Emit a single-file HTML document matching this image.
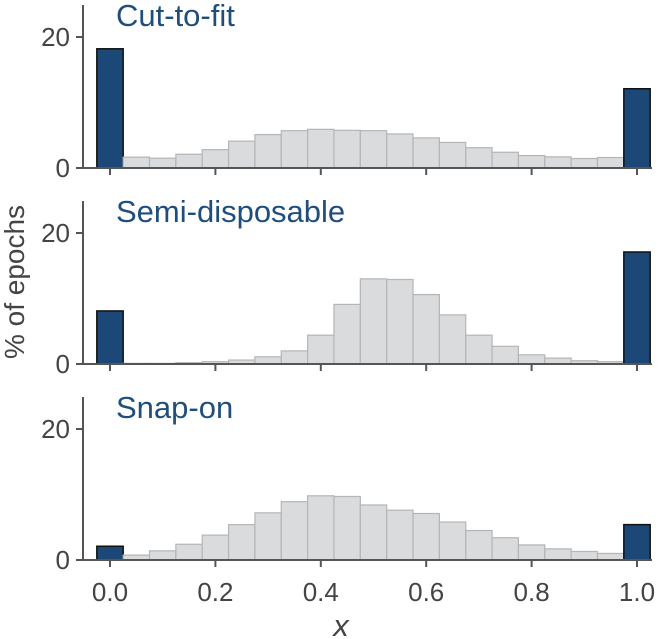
<!DOCTYPE html>
<html><head><meta charset="utf-8"><style>
body{margin:0;background:#fff}
svg{display:block;font-family:"Liberation Sans",sans-serif}
</style></head><body>
<svg id="chart" width="658" height="639" viewBox="0 0 658 639"></svg>
<script>
const panelTitles = ["Cut-to-fit","Semi-disposable","Snap-on"];
const binCenters = [0,0.05,0.1,0.15,0.2,0.25,0.3,0.35,0.4,0.45,0.5,0.55,0.6,0.65,0.7,0.75,0.8,0.85,0.9,0.95,1.0];
const cutToFit = [18.2,1.66,1.5,2.1,2.8,4.1,5.1,5.7,5.9,5.75,5.7,5.2,4.6,3.9,3.1,2.4,1.9,1.7,1.45,1.6,12.1];
const semiDisposable = [8.1,0.1,0.1,0.2,0.35,0.6,1.1,2.0,4.4,9.1,13.0,12.9,10.6,7.5,4.4,2.7,1.4,0.9,0.5,0.35,17.1];
const snapOn = [2.1,0.75,1.4,2.4,3.8,5.4,7.2,8.9,9.8,9.7,8.4,7.6,7.1,5.8,4.5,3.4,2.3,1.7,1.3,1.0,5.4];
const xTicks = [0,0.2,0.4,0.6,0.8,1.0];
const xTickLabels = ["0.0","0.2","0.4","0.6","0.8","1.0"];
const yTicks = [0,20];
const series = [cutToFit, semiDisposable, snapOn];

const svg = document.getElementById('chart');
const NS = 'http://www.w3.org/2000/svg';
function mk(tag, attrs, parent){const e=document.createElementNS(NS,tag);for(const k in attrs)e.setAttribute(k,attrs[k]);(parent||svg).appendChild(e);return e;}
const X0=110, X1=637;
const xs = v => X0 + v*(X1-X0);
const binW = 0.05*(X1-X0);
const baselines=[168,364,560];
const pxPerUnit = 131/20;
const spineX = 83;

series.forEach((vals, p) => {
  const base = baselines[p];
  const ys = v => base - v*pxPerUnit;
  const g = mk('g', {});
  
  
  vals.forEach((v,i) => {
    const edge = (i===0 || i===vals.length-1);
    const r = mk('rect', {x: xs(binCenters[i]) - binW/2, y: ys(v), width: binW, height: base - ys(v),
      fill: edge ? '#1b4877' : '#d9dbdd', stroke: edge ? '#111' : '#b3b5b7', 'stroke-width': edge ? 1.5 : 1.2}, g);
    
    
  });
  const ya = mk('line', {x1: spineX, y1: base - 163, x2: spineX, y2: base, stroke:'#555', 'stroke-width':2}, g);
  
  
  const xa = mk('line', {x1: spineX, y1: base, x2: 652, y2: base, stroke:'#555', 'stroke-width':2}, g);
  
  
  yTicks.forEach(t => {
    mk('line', {x1: spineX-7, y1: ys(t), x2: spineX, y2: ys(t), stroke:'#555','stroke-width':2}, g);
    const tl = mk('text', {x: 70, y: ys(t)+9, 'text-anchor':'end', 'font-size':26, fill:'#444'}, g);
    tl.textContent = t;
    
    
  });
  xTicks.forEach((t,i) => {
    mk('line', {x1: xs(t), y1: base, x2: xs(t), y2: base+7, stroke:'#555','stroke-width':2}, g);
    if (p === 2) {
      const tl = mk('text', {x: xs(t), y: base+41, 'text-anchor':'middle', 'font-size':26, fill:'#444'}, g);
      tl.textContent = xTickLabels[i];
      
      
    }
  });
  const tt = mk('text', {x: 116, y: base - 142, 'font-size':31, fill:'#1f4e7d'}, g);
  tt.textContent = panelTitles[p];
  
  
});
const yl = mk('text', {x: 0, y: 0, transform: 'translate(24,282) rotate(-90)', 'text-anchor':'middle', 'font-size':28, fill:'#444'});
yl.textContent = '% of epochs';


const xl = mk('text', {x: 341, y: 636, 'text-anchor':'middle', 'font-size':31, 'font-style':'italic', fill:'#444'});
xl.textContent = 'x';


</script>
</body></html>
